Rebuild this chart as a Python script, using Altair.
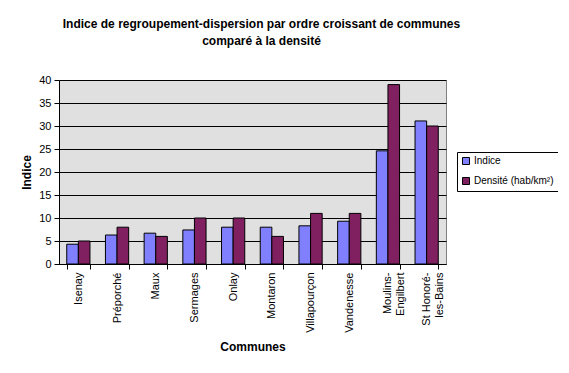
import altair as alt
import pandas as pd

communes = ["Isenay", "Préporché", "Maux", "Sermages", "Onlay", "Montaron",
            "Villapourçon", "Vandenesse", "Moulins-Engilbert", "St Honoré-les-Bains"]
indice = [4.3, 6.3, 6.7, 7.4, 8.0, 8.0, 8.3, 9.3, 24.6, 31.1]
densite = [5, 8, 6, 10, 10, 6, 11, 11, 39, 30]
series = ["Indice", "Densité (hab/km²)"]

rows = []
for c, a, b in zip(communes, indice, densite):
    rows.append({"Commune": c, "Serie": series[0], "Valeur": a})
    rows.append({"Commune": c, "Serie": series[1], "Valeur": b})
df = pd.DataFrame(rows)

font = "Liberation Sans"

label_expr = ("datum.label == 'Moulins-Engilbert' ? ['Moulins-', 'Engilbert'] : "
              "datum.label == 'St Honoré-les-Bains' ? ['St Honoré-', 'les-Bains'] : datum.label")

chart = alt.Chart(df).mark_bar(stroke="black", strokeWidth=1).encode(
    x=alt.X("Commune:N", sort=communes,
            scale=alt.Scale(paddingInner=0.4, paddingOuter=0.2),
            axis=alt.Axis(title="Communes", labelAngle=-90, labelExpr=label_expr,
                          tickBand="extent", tickColor="black", tickSize=5,
                          domainColor="black", labelFontSize=11, labelColor="black",
                          labelPadding=3, titleFontSize=12, titleFontWeight="bold",
                          titlePadding=9, grid=False, labelFont=font, titleFont=font,
                          labelLineHeight=13)),
    xOffset=alt.XOffset("Serie:N", sort=series),
    y=alt.Y("Valeur:Q", scale=alt.Scale(domain=[0, 40]),
            axis=alt.Axis(title="Indice", values=[0, 5, 10, 15, 20, 25, 30, 35, 40],
                          tickColor="black", tickSize=5, domainColor="black",
                          gridColor="black", gridOpacity=1, labelFontSize=11,
                          labelColor="black", titleFontSize=12, titleFontWeight="bold",
                          titlePadding=5, labelFont=font, titleFont=font, labelPadding=3)),
    color=alt.Color("Serie:N", sort=series,
                    scale=alt.Scale(domain=series, range=["#8080FF", "#802060"]),
                    legend=alt.Legend(title=None, orient="none", legendX=398, legendY=72,
                                      fillColor="white", strokeColor="black", padding=4,
                                      symbolType="square", symbolSize=49,
                                      symbolStrokeColor="black", symbolStrokeWidth=1,
                                      labelFontSize=10, labelFont=font, labelColor="black",
                                      labelOffset=3, rowPadding=8, symbolOpacity=1)),
).properties(
    width=387, height=184,
    title=alt.TitleParams(
        text=["Indice de regroupement-dispersion par ordre croissant de communes",
              "comparé à la densité"],
        font=font, fontSize=12, fontWeight="bold", color="black",
        anchor="middle", dx=9, offset=26, lineHeight=17),
    autosize=alt.AutoSizeParams(type="none"),
    padding={"left": 51, "top": 72, "right": 112, "bottom": 98},
    background="white",
).configure_view(fill="#E0E0E0", stroke="#808080", strokeWidth=1)

chart.save("out.html", embed_options={"renderer": "svg", "actions": False})
